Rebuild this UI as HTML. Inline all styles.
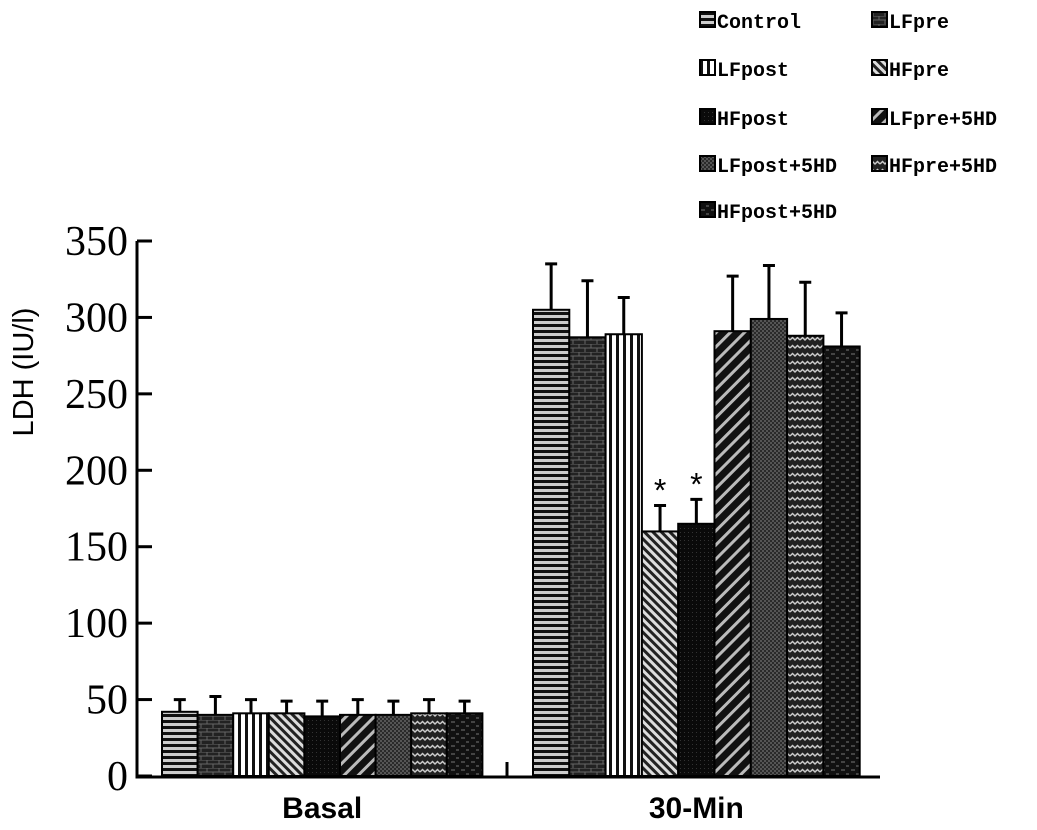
<!DOCTYPE html>
<html><head><meta charset="utf-8"><style>body{margin:0;background:#fff}svg{display:block}</style></head>
<body>
<svg id="chart" width="1037" height="830" xmlns="http://www.w3.org/2000/svg">
<defs>
<pattern id="p0" width="6" height="6" patternUnits="userSpaceOnUse"><rect width="6" height="6" fill="#ccc"/><rect width="6" height="3" fill="#111"/></pattern>
<pattern id="p1" width="12" height="8" patternUnits="userSpaceOnUse"><rect width="12" height="8" fill="#222"/><path d="M0 0H12M0 4H12M3 0V4M9 4V8" stroke="#666" stroke-width="1"/></pattern>
<pattern id="p2" width="7" height="7" patternUnits="userSpaceOnUse"><rect width="7" height="7" fill="#fff"/><rect width="3" height="7" fill="#111"/></pattern>
<pattern id="p3" width="6" height="6" patternUnits="userSpaceOnUse" patternTransform="rotate(-45)"><rect width="6" height="6" fill="#ddd"/><rect width="3" height="6" fill="#222"/></pattern>
<pattern id="p4" width="4" height="4" patternUnits="userSpaceOnUse"><rect width="4" height="4" fill="#0a0a0a"/><rect width="1" height="1" fill="#333"/></pattern>
<pattern id="p5" width="10" height="10" patternUnits="userSpaceOnUse" patternTransform="rotate(45)"><rect width="10" height="10" fill="#111"/><rect width="3" height="10" fill="#bbb"/></pattern>
<pattern id="p6" width="4" height="4" patternUnits="userSpaceOnUse"><rect width="4" height="4" fill="#2a2a2a"/><rect width="2" height="2" fill="#555"/><rect x="2" y="2" width="2" height="2" fill="#555"/></pattern>
<pattern id="p7" width="10" height="8" patternUnits="userSpaceOnUse"><rect width="10" height="8" fill="#222"/><path d="M0 4L2.5 1.5L5 4L7.5 1.5L10 4" stroke="#ccc" stroke-width="1.5" fill="none"/></pattern>
<pattern id="p8" width="10" height="8" patternUnits="userSpaceOnUse"><rect width="10" height="8" fill="#111"/><path d="M1 2H5M6 6H9" stroke="#555" stroke-width="1.5"/></pattern>
</defs>
<g id="plot"></g>
</svg>
<script>
const series=['Control','LFpre','LFpost','HFpre','HFpost','LFpre+5HD','LFpost+5HD','HFpre+5HD','HFpost+5HD'];
const groups=['Basal','30-Min'];
const basalVals=[42,40,41,41,39,40,40,41,41];
const basalErr=[8,12,9,8,10,10,9,9,8];
const minVals=[305,287,289,160,165,291,299,288,281];
const minErr=[30,37,24,17,16,36,35,35,22];
const yTicks=[0,50,100,150,200,250,300,350];
const sig=[false,false,false,true,true,false,false,false,false];
const NS='http://www.w3.org/2000/svg';
const g=document.getElementById('plot');
const y0=776,yScale=535/350;
const y=v=>y0-v*yScale;
const groupStart=[162,533],barW=[35.6,36.3];
function mk(t,a,p){const e=document.createElementNS(NS,t);for(const k in a)e.setAttribute(k,a[k]);(p||g).appendChild(e);return e;}
let ax=mk('path',{d:'M137 241V777H880M507 777V762',stroke:'#000','stroke-width':3,fill:'none'});


yTicks.forEach(t=>{
 let l=mk('line',{x1:137,x2:152,y1:y(t),y2:y(t),stroke:'#000','stroke-width':3});
 
 
 let tx=mk('text',{x:128,y:y(t)+14,'text-anchor':'end','font-family':'Liberation Serif, serif','font-size':42});
 tx.textContent=t;
 
 
});
let yt=mk('text',{x:0,y:0,transform:'translate(33,372) rotate(-90)','text-anchor':'middle','font-family':'Liberation Sans, sans-serif','font-size':29});
yt.textContent='LDH (IU/l)';


[basalVals,minVals].forEach((vals,gi)=>{
 const errs=gi?minErr:basalErr;
 vals.forEach((v,i)=>{
  const x=groupStart[gi]+i*barW[gi],w=barW[gi];
  const top=y(v+errs[i]),cx=x+w/2;
  let e=mk('path',{d:`M${cx} ${y(v)}V${top}M${cx-6} ${top}H${cx+6}`,stroke:'#000','stroke-width':3});
  
  
  let r=mk('rect',{x:x,y:y(v),width:w,height:y0-y(v),fill:`url(#p${i})`,stroke:'#000','stroke-width':2});
  
  
  if(gi&&sig[i]){let s=mk('text',{x:cx,y:top-4,'text-anchor':'middle','font-family':'Liberation Sans, sans-serif','font-size':32});
   s.textContent='*';
   
   }
 });
 let gl=mk('text',{x:groupStart[gi]+barW[gi]*4.5,y:818,'text-anchor':'middle','font-family':'Liberation Sans, sans-serif','font-size':30,'font-weight':'bold'});
 gl.textContent=groups[gi];
 
 
});
const rowsY=[21,69,118,165,211];
series.forEach((s,i)=>{
 const lx=i%2?872:700,ly=rowsY[Math.floor(i/2)];
 let b=mk('rect',{x:lx,y:ly-9,width:15,height:15,fill:`url(#p${i})`,stroke:'#000','stroke-width':2});
 
 
 let t=mk('text',{x:lx+17,y:ly+7,'font-family':'Liberation Mono, monospace','font-size':20,'font-weight':'bold'});
 t.textContent=s;
 
 
});
</script>
</body></html>
